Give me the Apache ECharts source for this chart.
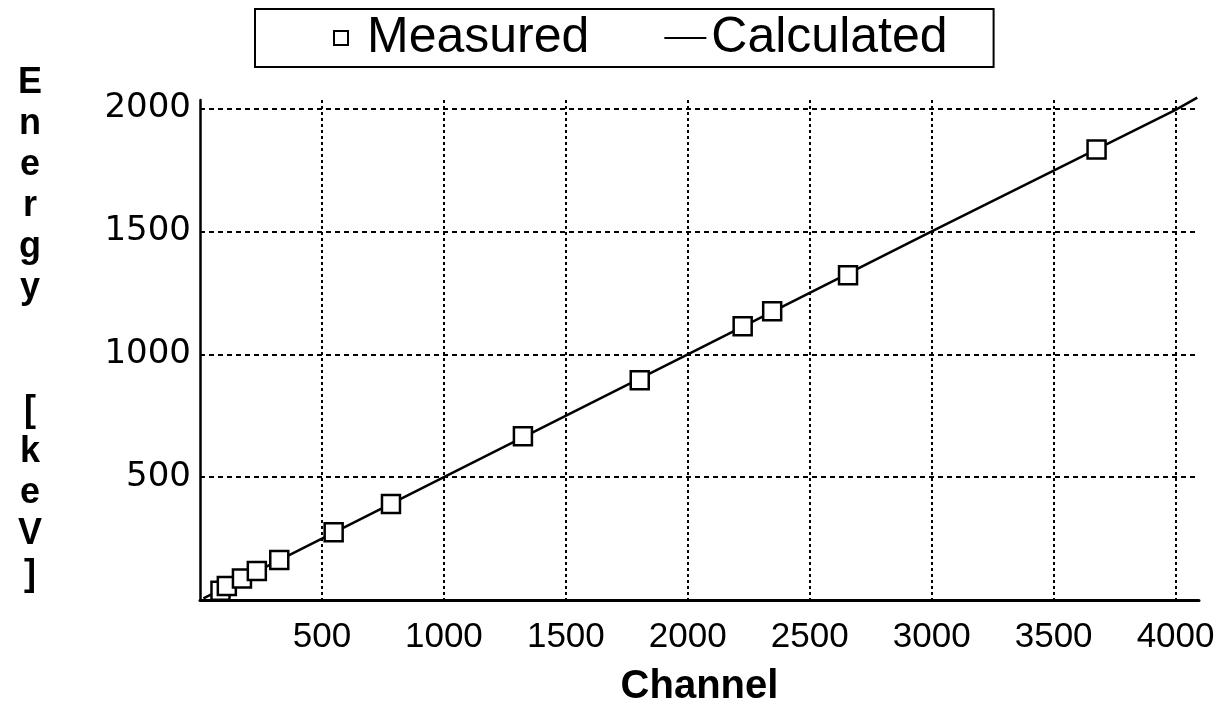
<!DOCTYPE html>
<html>
<head>
<meta charset="utf-8">
<script src="https://cdn.jsdelivr.net/npm/echarts@6/dist/echarts.min.js"></script>
<style>
  html, body { margin: 0; padding: 0; background: #fff; }
  #chart { width: 1224px; height: 719px; }
</style>
</head>
<body>
<div id="chart"></div>
<script>
// Measured calibration points (channel, energy keV)
const measuredChannel = [84, 110, 172, 233, 325, 548, 783, 1324, 1803, 2225, 2346, 2657, 3676];
const measuredEnergy  = [38, 57, 88, 118, 163, 276, 391, 666, 894, 1114, 1175, 1322, 1834];
// Calculated calibration line
const calcChannel = [14, 1000, 2000, 3000, 4000, 4089];
const calcEnergy  = [7, 500, 1000, 1500, 1995, 2045];
// Axis ticks
const xTicks = [500, 1000, 1500, 2000, 2500, 3000, 3500, 4000];
const yTicks = [500, 1000, 1500, 2000];
const seriesNames = ['Measured', 'Calculated'];
const yAxisTitle = ['E', 'n', 'e', 'r', 'g', 'y', ' ', ' ', '[', 'k', 'e', 'V', ']', ' '];

const chart = echarts.init(document.getElementById('chart'), null, { renderer: 'canvas' });

const measuredData = measuredChannel.map((c, i) => [c, measuredEnergy[i]]);
const calcData = calcChannel.map((c, i) => [c, calcEnergy[i]]);

const option = {
  animation: false,
  backgroundColor: '#fff',
  grid: { left: 200, right: 25, top: 100, bottom: 119, containLabel: false },
  legend: {
    left: 255, top: 9,
    padding: [4, 46, 4, 78],
    itemGap: 75,
    itemWidth: 42, itemHeight: 14,
    borderColor: '#000', borderWidth: 2, backgroundColor: '#fff',
    textStyle: { fontFamily: 'Liberation Sans', fontSize: 50, color: '#000' },
    data: [
      { name: seriesNames[0], icon: 'path://M0,0H10V10H0Z',
        itemStyle: { color: '#fff', borderColor: '#000', borderWidth: 2 } },
      { name: seriesNames[1], icon: 'path://M0,0H21V1H0Z',
        itemStyle: { color: '#000', borderWidth: 0 } }
    ]
  },
  xAxis: {
    type: 'value', min: 0, max: 4096, interval: 500,
    name: 'Channel', nameLocation: 'middle', nameGap: 67,
    nameTextStyle: { fontFamily: 'Liberation Sans', fontSize: 40, fontWeight: 'bold', color: '#000' },
    axisLine: { show: true, lineStyle: { color: '#000', width: 3 } },
    axisTick: { show: false },
    axisLabel: {
      showMinLabel: false, showMaxLabel: false, margin: 20,
      fontFamily: 'Liberation Sans', fontSize: 35, color: '#000',
      formatter: v => (xTicks.indexOf(v) >= 0 ? String(v) : '')
    },
    splitLine: { show: true, showMinLine: false, showMaxLine: false,
      lineStyle: { color: '#000', width: 2, type: [3, 3] } }
  },
  yAxis: {
    type: 'value', min: 0, max: 2035, interval: 500,
    name: yAxisTitle.join('\n'), nameLocation: 'middle', nameRotate: 0, nameGap: 170,
    nameTextStyle: { fontFamily: 'Liberation Sans', fontSize: 36, fontWeight: 'bold', color: '#000',
      align: 'center', verticalAlign: 'middle', lineHeight: 41 },
    axisLine: { show: true, lineStyle: { color: '#000', width: 2.5 } },
    axisTick: { show: false },
    axisLabel: {
      showMinLabel: false, showMaxLabel: false, margin: 9,
      fontFamily: 'DejaVu Sans', fontSize: 34, color: '#000',
      formatter: v => (yTicks.indexOf(v) >= 0 ? String(v) : '')
    },
    splitLine: { show: true, showMinLine: false, showMaxLine: false,
      lineStyle: { color: '#000', width: 2, type: [5, 4] } }
  },
  series: [
    {
      name: seriesNames[0], type: 'scatter', data: measuredData,
      symbol: 'rect', symbolSize: 18, z: 4,
      itemStyle: { color: '#fff', borderColor: '#000', borderWidth: 2.5, opacity: 1 }
    },
    {
      name: seriesNames[1], type: 'line', data: calcData,
      symbol: 'none', showSymbol: false, clip: false, z: 2,
      lineStyle: { color: '#000', width: 2.5 },
      itemStyle: { color: '#000' }
    }
  ]
};
chart.setOption(option);
</script>
</body>
</html>
